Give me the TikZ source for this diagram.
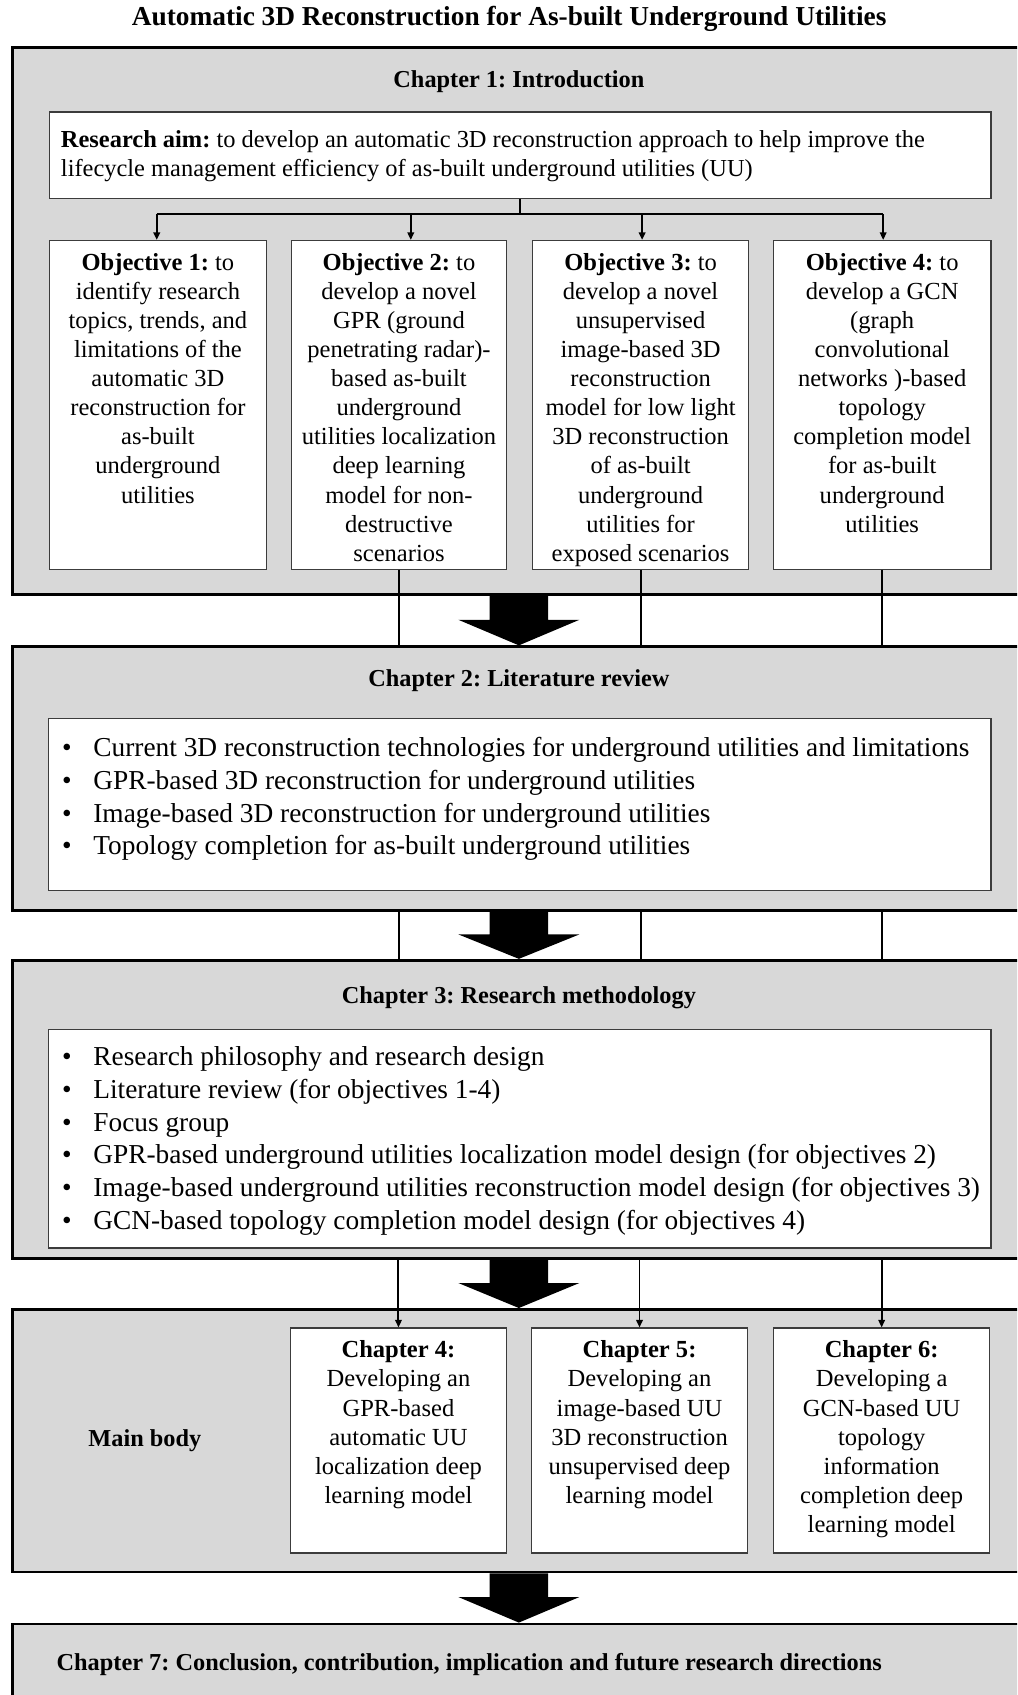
\documentclass[tikz,border=0pt]{standalone}
\usepackage{fontspec}
\setmainfont{Liberation Serif}
\usetikzlibrary{arrows.meta,calc}
\definecolor{panelgray}{RGB}{216,216,216}
\definecolor{boxline}{RGB}{60,60,60}
\frenchspacing

% thick block arrow pointing down from one panel edge to the next
\newcommand\downblock[2]{%
  \fill let \p1=(ax |- #1), \p2=(ax |- #2), \p3=($(\p1)!0.48!(\p2)$) in
    (\x1-13.5pt,\y1) -- (\x1+13.5pt,\y1) -- (\x1+13.5pt,\y3) -- (\x1+28pt,\y3)
    -- (\x1,\y2) -- (\x1-28pt,\y3) -- (\x1-13.5pt,\y3) -- cycle;}

\begin{document}
\begin{tikzpicture}[x=0.5pt,y=-0.5pt,
  panel/.style={draw=black,line width=1.25pt,fill=panelgray,anchor=north west,inner sep=0pt},
  whitebox/.style={draw=boxline,line width=0.6pt,fill=white,anchor=north west,inner sep=0pt},
  boxtext/.style={anchor=north,inner sep=0pt,align=center,font=\fontsize{11.35}{13.45}\selectfont},
  heading/.style={anchor=base,inner sep=0pt,font=\bfseries\fontsize{11.25}{13}\selectfont},
  listtext/.style={anchor=north west,inner sep=0pt,align=left,font=\fontsize{12.65}{15.1}\selectfont},
  link/.style={line width=0.9pt},
  tip/.style={link,-{Triangle[length=3.5pt,width=3pt]}},
]
\useasboundingbox (0,0) rectangle (941,1568);
\clip (0,0) rectangle (941,1568);
\fill[white] (0,0) rectangle (941,1568);

% title
\node[anchor=base,inner sep=0pt,font=\bfseries\fontsize{12.65}{15}\selectfont] (title) at (471,24)
  {Automatic 3D Reconstruction for As-built Underground Utilities};

% chapter panels
\node[panel,minimum width=485pt,minimum height=253pt] (ch1) at (10,43) {};
\node[panel,minimum width=485pt,minimum height=122pt] (ch2) at (10,597) {};
\node[panel,minimum width=485pt,minimum height=138pt] (ch3) at (10,887) {};
\node[panel,minimum width=485pt,minimum height=121.5pt] (main) at (10,1210) {};
\node[panel,minimum width=485pt,minimum height=60pt] (ch7) at (10,1501) {};

% chapter 1
\node[heading] (h1) at (480,81) {Chapter 1: Introduction};
\node[whitebox,minimum width=435.5pt,minimum height=40pt] (aim) at (45,103) {};
\node[anchor=north west,inner sep=0pt,align=left,font=\fontsize{11.3}{13.5}\selectfont] (aimtext) at (56,120)
  {\textbf{Research aim:} to develop an automatic 3D reconstruction approach to help improve the\\
   lifecycle management efficiency of as-built underground utilities (UU)};

\node[whitebox,minimum width=100.5pt,minimum height=152pt] (obj1) at (45,222) {};
\node[whitebox,minimum width=99.5pt,minimum height=152pt] (obj2) at (269,222) {};
\node[whitebox,minimum width=100pt,minimum height=152pt] (obj3) at (492,222) {};
\node[whitebox,minimum width=100.5pt,minimum height=152pt] (obj4) at (715,222) {};

\node[boxtext] (t1) at ($(obj1.north)+(0,12)$)
  {\textbf{Objective 1:} to\\identify research\\topics, trends, and\\limitations of the\\automatic 3D\\reconstruction for\\as-built\\underground\\utilities};
\node[boxtext] (t2) at ($(obj2.north)+(0,12)$)
  {\textbf{Objective 2:} to\\develop a novel\\GPR (ground\\penetrating radar)-\\based as-built\\underground\\utilities localization\\deep learning\\model for non-\\destructive\\scenarios};
\node[boxtext] (t3) at ($(obj3.north)+(0,12)$)
  {\textbf{Objective 3:} to\\develop a novel\\unsupervised\\image-based 3D\\reconstruction\\model for low light\\3D reconstruction\\of as-built\\underground\\utilities for\\exposed scenarios};
\node[boxtext] (t4) at ($(obj4.north)+(0,12)$)
  {\textbf{Objective 4:} to\\develop a GCN\\(graph\\convolutional\\networks )-based\\topology\\completion model\\for as-built\\underground\\utilities};

% fork from the aim to the objectives
\coordinate (b1) at (145,198);
\coordinate (b2) at (380,198);
\coordinate (b3) at (594,198);
\coordinate (b4) at (817,198);
\draw[line width=1.1pt] (aim.south) -- (aim.south |- b1);
\draw[line width=1.1pt] (b1) -- (b4);
\draw[tip] (b1) -- (b1 |- obj1.north);
\draw[tip] (b2) -- (b2 |- obj2.north);
\draw[tip] (b3) -- (b3 |- obj3.north);
\draw[tip] (b4) -- (b4 |- obj4.north);

% chapter 2
\node[heading] (h2) at (480,635) {Chapter 2: Literature review};
\node[whitebox,minimum width=436pt,minimum height=79.5pt] (lit) at (44,664) {};
\node[listtext] (littext) at (57,682)
  {\makebox[14.5pt][l]{•}Current 3D reconstruction technologies for underground utilities and limitations\\
   \makebox[14.5pt][l]{•}GPR-based 3D reconstruction for underground utilities\\
   \makebox[14.5pt][l]{•}Image-based 3D reconstruction for underground utilities\\
   \makebox[14.5pt][l]{•}Topology completion for as-built underground utilities};

% chapter 3
\node[heading] (h3) at (480,928) {Chapter 3: Research methodology};
\node[whitebox,minimum width=436pt,minimum height=101pt] (meth) at (44,952) {};
\node[listtext] (methtext) at (57,968)
  {\makebox[14.5pt][l]{•}Research philosophy and research design\\
   \makebox[14.5pt][l]{•}Literature review (for objectives 1-4)\\
   \makebox[14.5pt][l]{•}Focus group\\
   \makebox[14.5pt][l]{•}GPR-based underground utilities localization model design (for objectives 2)\\
   \makebox[14.5pt][l]{•}Image-based underground utilities reconstruction model design (for objectives 3)\\
   \makebox[14.5pt][l]{•}GCN-based topology completion model design (for objectives 4)};

% main body
\node[heading] (hmain) at (134,1338) {Main body};
\node[whitebox,minimum width=100pt,minimum height=104pt] (c4) at (268,1228) {};
\node[whitebox,minimum width=100pt,minimum height=104pt] (c5) at (491,1228) {};
\node[whitebox,minimum width=100pt,minimum height=104pt] (c6) at (715,1228) {};
\node[boxtext] (t5) at ($(c4.north)+(0,12)$)
  {\textbf{Chapter 4:}\\Developing an\\GPR-based\\automatic UU\\localization deep\\learning model};
\node[boxtext] (t6) at ($(c5.north)+(0,12)$)
  {\textbf{Chapter 5:}\\Developing an\\image-based UU\\3D reconstruction\\unsupervised deep\\learning model};
\node[boxtext] (t7) at ($(c6.north)+(0,12)$)
  {\textbf{Chapter 6:}\\Developing a\\GCN-based UU\\topology\\information\\completion deep\\learning model};

% chapter 7
\node[anchor=base west,inner sep=0pt,font=\bfseries\fontsize{11.25}{13}\selectfont] (h7) at (52,1545)
  {Chapter 7: Conclusion, contribution, implication and future research directions};

% links carrying objectives 2-4 down through the chapters
\draw[link] (obj2.south) -- (obj2.south |- ch2.north);
\draw[link] (obj3.south) -- (obj3.south |- ch2.north);
\draw[link] (obj4.south) -- (obj4.south |- ch2.north);
\draw[link] (obj2.south |- ch2.south) -- (obj2.south |- ch3.north);
\draw[link] (obj3.south |- ch2.south) -- (obj3.south |- ch3.north);
\draw[link] (obj4.south |- ch2.south) -- (obj4.south |- ch3.north);
\draw[tip] (c4.north |- ch3.south) -- (c4.north);
\draw[tip] (c5.north |- ch3.south) -- (c5.north);
\draw[tip] (c6.north |- ch3.south) -- (c6.north);

% block arrows between chapters
\coordinate (ax) at (480,0);
\downblock{ch1.south}{ch2.north}
\downblock{ch2.south}{ch3.north}
\downblock{ch3.south}{main.north}
\downblock{main.south}{ch7.north}
\end{tikzpicture}
\end{document}
